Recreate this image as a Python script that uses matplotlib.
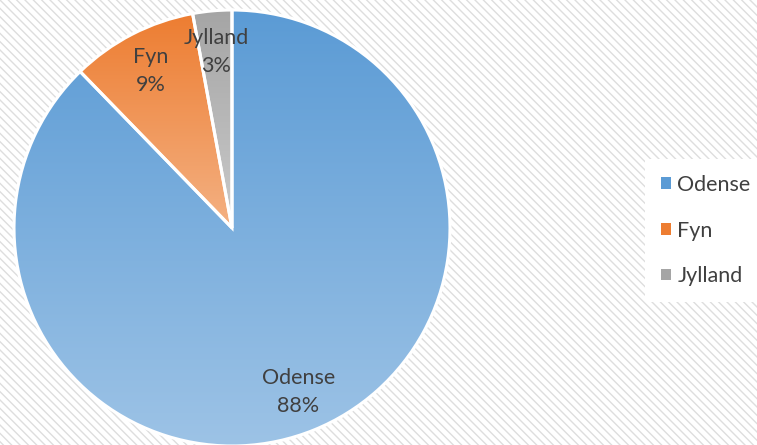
import matplotlib.pyplot as plt
import matplotlib.patches as mpatches
import numpy as np
from matplotlib.colors import LinearSegmentedColormap

plt.rcParams['hatch.linewidth'] = 1.0
plt.rcParams['font.family'] = ['Lato', 'DejaVu Sans']

# Data
categories = ['Odense', 'Fyn', 'Jylland']
values = [88.0, 9.4, 2.9]

# gradient colours (top, bottom) per slice
top_colors = ['#5B9BD5', '#ED7D31', '#A5A5A5']
bottom_colors = ['#9DC3E6', '#F4B183', '#CACACA']

fig = plt.figure(figsize=(7.57, 4.45), dpi=100)

# hatched background
bg = mpatches.Rectangle((0, 0), 1, 1, transform=fig.transFigure, facecolor='white',
                        edgecolor='#DEDEDE', hatch='\\\\\\\\', linewidth=0, zorder=-10)
fig.patches.append(bg)

ax = fig.add_axes([14 / 757, -1 / 445, 436 / 757, 436 / 445])
ax.set_facecolor('none')

names = iter(categories)
wedges, texts, autotexts = ax.pie(
    values, startangle=90, counterclock=False, radius=1,
    autopct=lambda p: f"{next(names)}\n{p:.0f}%", pctdistance=0.81,
    wedgeprops=dict(edgecolor='white', linewidth=2.2),
    textprops=dict(color='#404040', fontsize=15.5, linespacing=1.5))

# fill wedges with vertical gradients
for w, c0, c1 in zip(wedges, top_colors, bottom_colors):
    w.set_facecolor('none')
    verts = w.get_path().vertices
    ymin, ymax = verts[:, 1].min(), verts[:, 1].max()
    cmap = LinearSegmentedColormap.from_list('g', [c1, c0])
    grad = np.linspace(0, 1, 256).reshape(-1, 1)
    im = ax.imshow(grad, extent=(-1, 1, ymin, ymax), origin='lower', cmap=cmap,
                   aspect='auto', zorder=0.5)
    im.set_clip_path(w)
    w.set_zorder(1)

for t in autotexts:
    t.set_zorder(3)

ax.set_xlim(-1.0, 1.0)
ax.set_ylim(-1.0, 1.0)
ax.set_aspect('equal')
ax.set_axis_off()

# legend
handles = [mpatches.Patch(facecolor=c, edgecolor='none') for c in top_colors]
leg = fig.legend(handles, categories, loc='center left', bbox_to_anchor=(645 / 757, 0.482),
                 frameon=True, fancybox=False, fontsize=15.5, labelcolor='#404040',
                 handlelength=0.45, handleheight=0.45, handletextpad=0.3,
                 labelspacing=1.2, borderpad=0.75, borderaxespad=0)
leg.get_frame().set_facecolor('white')
leg.get_frame().set_edgecolor('none')
leg.get_frame().set_alpha(1)

fig.savefig('out.png', dpi=100)
